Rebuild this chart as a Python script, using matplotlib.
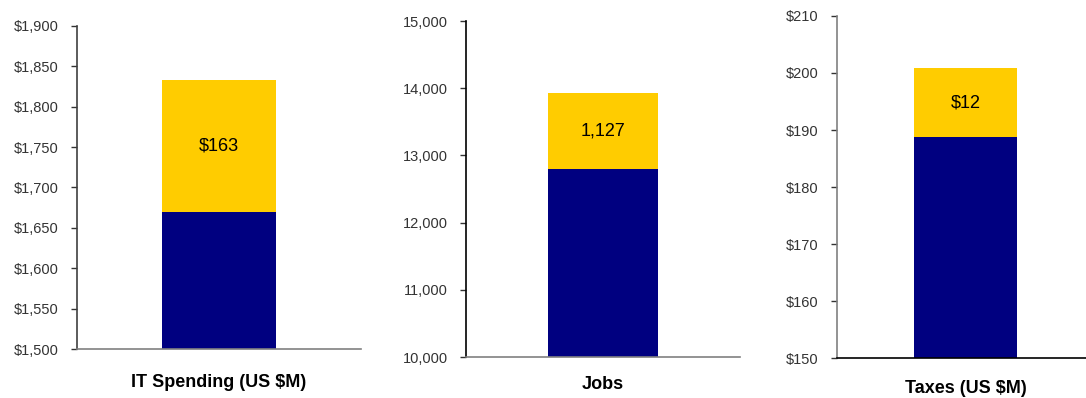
import matplotlib.pyplot as plt
from matplotlib.ticker import FuncFormatter

plt.rcParams["font.family"] = ["Liberation Sans", "DejaVu Sans"]

categories = ["IT Spending (US $M)", "Jobs", "Taxes (US $M)"]
base_values = [1670, 12800, 188.8]
increase_values = [163, 1127, 12]
increase_labels = ["$163", "1,127", "$12"]
y_limits = [(1500, 1900), (10000, 15000), (150, 210)]
y_steps = [50, 1000, 10]
y_formats = ["${:,.0f}", "{:,.0f}", "${:,.0f}"]

NAVY = "#000080"
GOLD = "#FFCC00"

# axes boxes in figure fraction
boxes = [
    [0.0709, 0.1231, 0.2615, 0.8116],
    [0.4291, 0.1030, 0.2523, 0.8442],
    [0.7707, 0.1005, 0.2366, 0.8593],
]
spine_cols = [("#404040", "#808080"), ("#000000", "#808080"), ("#808080", "#000000")]
label_pads = [18, 14, 16]

fig = plt.figure(figsize=(10.86, 3.98), dpi=100)

for i, cat in enumerate(categories):
    ax = fig.add_axes(boxes[i])
    ax.bar([0], [base_values[i]], width=0.8, color=NAVY, bottom=0)
    ax.bar([0], [increase_values[i]], width=0.8, color=GOLD, bottom=base_values[i])
    ax.text(0, base_values[i] + increase_values[i] / 2, increase_labels[i],
            ha="center", va="center", fontsize=13, color="#000000")

    lo, hi = y_limits[i]
    ax.set_ylim(lo, hi)
    ax.set_xlim(-1, 1)
    ax.set_yticks([lo + k * y_steps[i] for k in range(int(round((hi - lo) / y_steps[i])) + 1)])
    fmt = y_formats[i]
    ax.yaxis.set_major_formatter(FuncFormatter(lambda v, p, fmt=fmt: fmt.format(v)))
    ax.tick_params(axis="y", direction="out", length=4, width=1, colors="#333333",
                   labelsize=10.5, pad=9)
    ax.set_xticks([0])
    ax.set_xticklabels([cat], fontsize=13, fontweight="bold", color="#000000")
    ax.tick_params(axis="x", length=0, pad=label_pads[i])

    for side in ["top", "right"]:
        ax.spines[side].set_visible(False)
    ax.spines["left"].set_color(spine_cols[i][0])
    ax.spines["bottom"].set_color(spine_cols[i][1])
    ax.spines["left"].set_linewidth(1.2)
    ax.spines["bottom"].set_linewidth(1.2)

fig.savefig("out.png", dpi=100)
plt.close(fig)
